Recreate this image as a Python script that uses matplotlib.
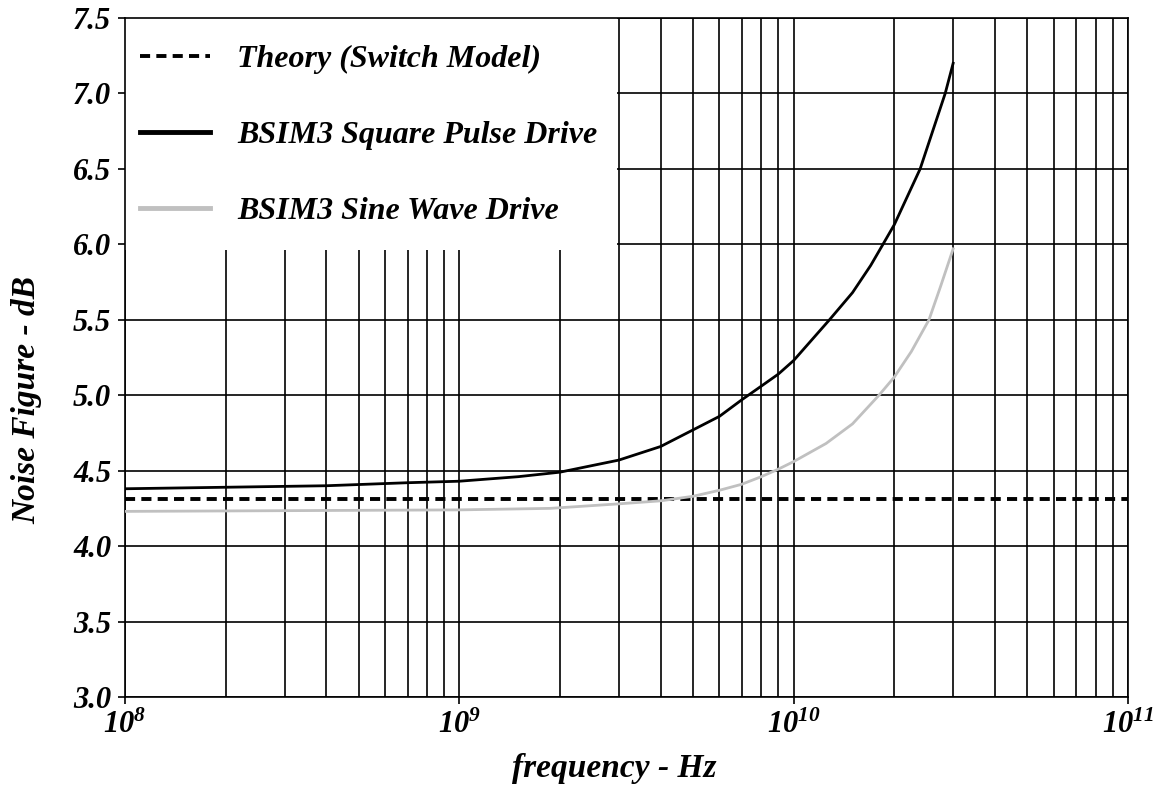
import numpy as np
import matplotlib
matplotlib.use("Agg")
from matplotlib import pyplot as plt
from matplotlib.patches import Rectangle
from matplotlib.ticker import FixedLocator, LogLocator, NullFormatter

plt.rcParams['font.family'] = 'Liberation Serif'
plt.rcParams['font.weight'] = 'bold'
plt.rcParams['font.style'] = 'italic'
plt.rcParams['axes.labelweight'] = 'bold'
plt.rcParams['mathtext.fontset'] = 'custom'
plt.rcParams['mathtext.rm'] = 'Liberation Serif:bold:italic'
plt.rcParams['mathtext.it'] = 'Liberation Serif:bold:italic'
plt.rcParams['mathtext.bf'] = 'Liberation Serif:bold:italic'

# switch model theory (flat)
theory_f = [1e8, 1e11]
theory_nf = [4.31, 4.31]

# BSIM3 square pulse drive
square_f = [1e8, 2e8, 4e8, 7e8, 1e9, 1.5e9, 2e9, 3e9, 4e9, 5e9, 6e9, 7e9, 8e9, 9e9,
            1e10, 1.28e10, 1.5e10, 1.7e10, 1.85e10, 2e10, 2.39e10, 2.84e10, 3e10]
square_nf = [4.38, 4.39, 4.40, 4.42, 4.43, 4.46, 4.49, 4.57, 4.66, 4.77, 4.86, 4.97, 5.06, 5.14,
             5.23, 5.50, 5.68, 5.86, 6.00, 6.13, 6.50, 7.00, 7.20]

# BSIM3 sine wave drive
sine_f = [1e8, 1e9, 1.87e9, 3e9, 4e9, 5e9, 6e9, 7e9, 8e9, 9e9,
          1e10, 1.25e10, 1.5e10, 1.8e10, 2e10, 2.25e10, 2.54e10, 2.75e10, 3e10]
sine_nf = [4.23, 4.24, 4.25, 4.28, 4.30, 4.33, 4.37, 4.41, 4.46, 4.51,
           4.56, 4.68, 4.81, 5.00, 5.12, 5.29, 5.50, 5.72, 5.97]

y_ticks = [3.0, 3.5, 4.0, 4.5, 5.0, 5.5, 6.0, 6.5, 7.0, 7.5]
x_ticks = [1e8, 1e9, 1e10, 1e11]
x_labels = [r'$10^{8}$', r'$10^{9}$', r'$10^{10}$', r'$10^{11}$']

fig = plt.figure(figsize=(11.65, 7.87), dpi=100)
ax = fig.add_axes([0.1073, 0.1144, 0.8609, 0.8627])

ax.plot(theory_f, theory_nf, color='black', lw=2.8, ls=(0, (2.6, 1.6)),
        label='Theory (Switch Model)', zorder=3)
ax.plot(square_f, square_nf, color='black', lw=2.0, label='BSIM3 Square Pulse Drive', zorder=3)
ax.plot(sine_f, sine_nf, color='#c0c0c0', lw=2.0, label='BSIM3 Sine Wave Drive', zorder=3)

ax.set_xscale('log')
ax.set_xlim(1e8, 1e11)
ax.set_ylim(3.0, 7.5)

ax.xaxis.set_major_locator(FixedLocator(x_ticks))
ax.set_xticklabels(x_labels)
ax.xaxis.set_minor_locator(LogLocator(base=10, subs=np.arange(2, 10)))
ax.xaxis.set_minor_formatter(NullFormatter())
ax.set_yticks(y_ticks)
ax.set_yticklabels([f'{v:.1f}' for v in y_ticks])

ax.grid(True, which='both', axis='x', color='black', lw=1.2)
ax.grid(True, which='major', axis='y', color='black', lw=1.2)
ax.tick_params(axis='x', which='minor', length=0)
ax.tick_params(axis='both', which='major', direction='out', length=5, width=1.2,
               labelsize=22, pad=5)
for s in ax.spines.values():
    s.set_linewidth(1.2)

ax.set_xlabel('frequency - Hz', fontsize=24)
ax.set_ylabel('Noise Figure - dB', fontsize=24)
ax.xaxis.set_label_coords(0.4875, -0.0825)
ax.yaxis.set_label_coords(-0.082, 0.437)

# white block behind the legend hides the grid in the upper-left corner
ax.add_patch(Rectangle((0.0, 0.658), 0.4905, 0.342, transform=ax.transAxes,
                       facecolor='white', edgecolor='none', zorder=2))

leg = ax.legend(loc='upper left', bbox_to_anchor=(0.015, 0.961), fontsize=23,
                frameon=False, borderpad=0.0, labelspacing=1.46,
                handlelength=2.2, handletextpad=0.85, borderaxespad=0.0)
for h in leg.get_lines()[1:]:
    h.set_linewidth(3.5)

fig.savefig('out.png', dpi=100)
